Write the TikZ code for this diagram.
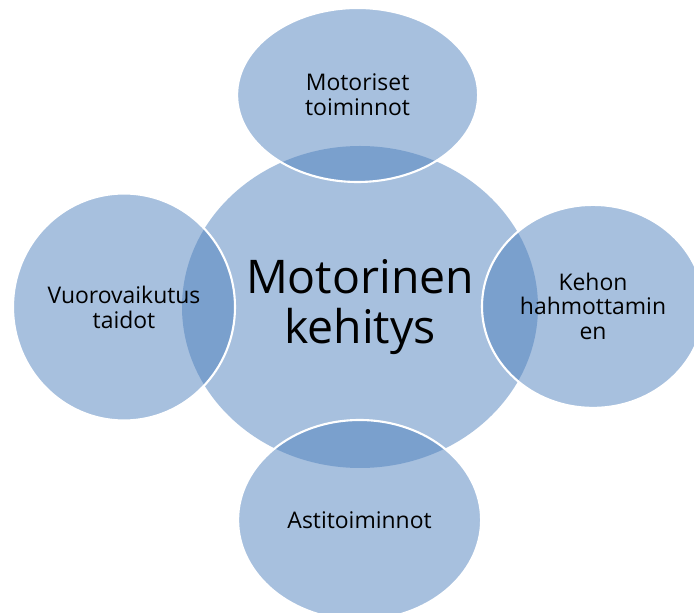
\documentclass[tikz,border=0pt]{standalone}
\usepackage{fontspec}
\setmainfont{Open Sans}
\usetikzlibrary{shapes.geometric, positioning}
\definecolor{myblue}{HTML}{4F81BD}
\tikzset{
	hubnode/.style={
			ellipse,
			fill=myblue,
			fill opacity=0.5,
			text opacity=1,
			draw=none,
			inner sep=0pt,
			minimum width=8.9cm,
			minimum height=8.05cm,
			align=center,
			font=\fontsize{33}{36}\selectfont
		},
	satnode/.style={
			ellipse,
			fill=myblue,
			fill opacity=0.5,
			text opacity=1,
			draw=white,
			draw opacity=1,
			line width=1.5pt,
			inner sep=0pt,
			align=center,
			font=\fontsize{16.3}{17.7}\selectfont
		}
}
\begin{document}
\begin{tikzpicture}
\useasboundingbox (0,0) rectangle (17.35,15.3);
\clip (0,0) rectangle (17.35,15.3);
\node[hubnode] (hub) at (9.0,7.625) {Motorinen\\kehitys};
\node[satnode, minimum width=6.025cm, minimum height=4.35cm] (top) at (8.94,12.925) {Motoriset\\toiminnot};
\node[satnode, minimum width=5.55cm, minimum height=5.675cm] (left) at (3.1,7.625) {Vuorovaikutus\\taidot};
\node[satnode, minimum width=5.55cm, minimum height=5.075cm] (right) at (14.825,7.64) {Kehon\\hahmottamin\\en};
\node[satnode, minimum width=6.075cm, minimum height=5.0cm] (bottom) at (8.99,2.3) {Astitoiminnot};
\end{tikzpicture}
\end{document}
